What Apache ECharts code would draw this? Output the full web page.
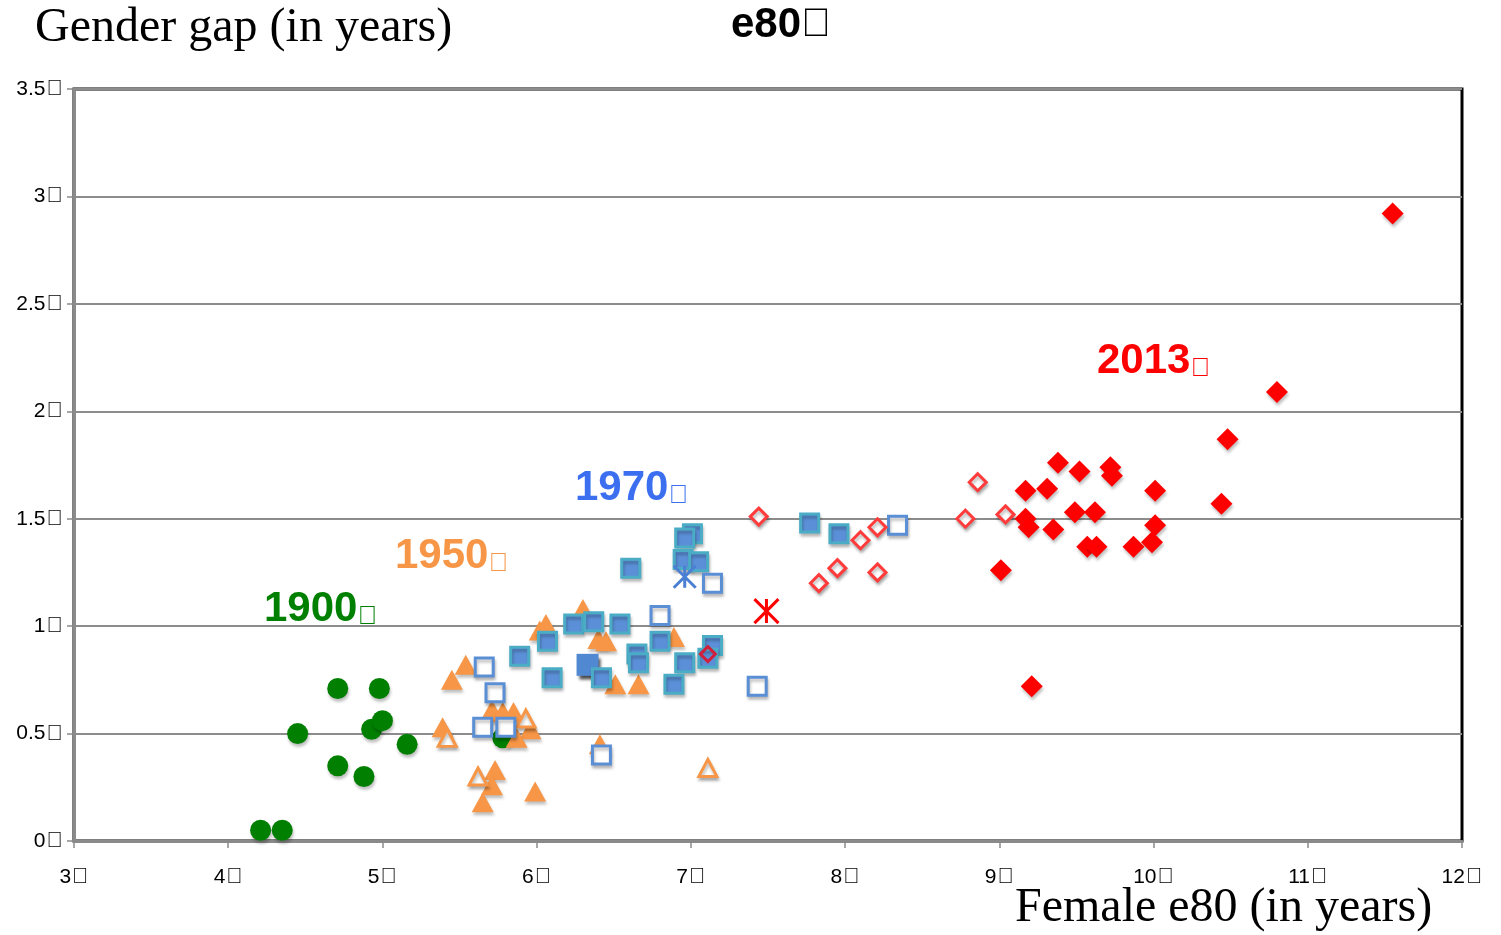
<!DOCTYPE html>
<html>
<head>
<meta charset="utf-8">
<script src="https://cdn.jsdelivr.net/npm/echarts@6/dist/echarts.min.js"></script>
<style>
html,body{margin:0;padding:0;background:#fff;}
#chart{width:1501px;height:935px;}
</style>
</head>
<body>
<div id="chart"></div>
<script>
// ---- data (x = female e80, y = gender gap) ----
const TOFU = '\uE000';
const xTicks = [3,4,5,6,7,8,9,10,11,12];
const yTicks = [0,0.5,1,1.5,2,2.5,3,3.5];

const green1900 = [[4.21,0.05],[4.35,0.05],[4.45,0.50],[4.71,0.71],[4.98,0.71],[4.93,0.52],[5.00,0.56],[5.16,0.45],[4.71,0.35],[4.88,0.30],[5.78,0.48]];

const orange1950 = [[5.54,0.82],[5.45,0.75],[5.39,0.53],[5.71,0.61],[5.78,0.60],[5.85,0.60],[5.96,0.52],[5.87,0.48],[6.41,0.45],[5.73,0.33],[5.71,0.26],[5.65,0.18],[5.99,0.23],[6.02,0.98],[6.06,1.01],[6.30,1.08],[6.40,0.94],[6.45,0.93],[6.51,0.73],[6.66,0.73],[6.89,0.95]];
const orange1950Open = [[5.42,0.48],[5.62,0.30],[5.93,0.57],[7.11,0.34]];

const blue1970 = [[7.01,1.43],[6.96,1.41],[6.61,1.27],[6.95,1.31],[7.05,1.30],[6.24,1.01],[6.37,1.02],[6.54,1.01],[6.07,0.93],[5.89,0.86],[6.10,0.76],[6.42,0.76],[6.65,0.87],[6.66,0.83],[6.80,0.93],[6.96,0.83],[7.14,0.91],[7.11,0.85],[6.89,0.73],[7.77,1.48],[7.96,1.43]];
const blue1970Dark = [[6.33,0.82]];
const blue1970Open = [[5.66,0.81],[5.73,0.69],[5.65,0.53],[5.80,0.53],[6.42,0.40],[7.14,1.20],[6.80,1.05],[7.43,0.72],[8.34,1.47]];
const blueStar = [[6.96,1.23]];

const red2013 = [[9.38,1.76],[9.52,1.72],[9.72,1.74],[9.73,1.70],[9.17,1.63],[9.31,1.64],[10.01,1.63],[9.49,1.53],[9.62,1.53],[9.17,1.50],[9.19,1.46],[9.35,1.45],[10.01,1.47],[9.99,1.39],[9.57,1.37],[9.63,1.37],[9.87,1.37],[9.01,1.26],[9.21,0.72],[11.55,2.92],[10.80,2.09],[10.48,1.87],[10.44,1.57]];
const red2013Open = [[7.44,1.51],[7.83,1.20],[7.95,1.27],[8.10,1.40],[8.21,1.46],[8.21,1.25],[8.86,1.67],[8.78,1.50],[9.04,1.52]];
const crimsonDiamond = [[7.11,0.87]];
const redStar = [[7.49,1.07]];

const yearLabels = ['1900','1950','1970','2013'];

// ---- chart ----
const shadow = {shadowBlur:3, shadowOffsetX:1, shadowOffsetY:3, shadowColor:'rgba(0,0,0,0.25)'};
const starPath = 'path://M0,0L10,10M10,0L0,10M5,0L5,10';
const axisRich = {
  a:{fontFamily:'"Liberation Sans Narrow","Liberation Sans",sans-serif', fontSize:21, color:'#000'},
  b:{fontFamily:'"Liberation Sans",sans-serif', fontSize:22, color:'#000', padding:[0,0,0,1]}
};

function tofuLabel(txt, color, x, y) {
  return {
    type:'text', left:x, top:y,
    style:{
      text:'{a|'+txt+'}{b|'+TOFU+'}',
      fill:color,
      rich:{
        a:{fontFamily:'"Liberation Sans",Arial,sans-serif', fontWeight:'bold', fontSize:42, fill:color},
        b:{fontFamily:'"Liberation Sans",Arial,sans-serif', fontSize:26, fill:color, verticalAlign:'bottom'}
      }
    }
  };
}

const chart = echarts.init(document.getElementById('chart'), null, {renderer:'canvas'});
chart.setOption({
  animation:false,
  backgroundColor:'#fff',
  grid:{left:74, right:39, top:89, bottom:94, show:true, borderColor:'#000', borderWidth:3, containLabel:false},
  xAxis:{
    type:'value', min:xTicks[0], max:xTicks[xTicks.length-1], interval:1,
    axisLine:{show:true, onZero:false, lineStyle:{color:'#8a8a8a', width:3}},
    axisTick:{show:true, length:7, lineStyle:{color:'#8a8a8a', width:1.5}},
    splitLine:{show:false},
    axisLabel:{margin:25, formatter:v=>'{a|'+v+'}{b|'+TOFU+'}', rich:axisRich}
  },
  yAxis:{
    type:'value', min:yTicks[0], max:yTicks[yTicks.length-1], interval:0.5,
    axisLine:{show:true, onZero:false, lineStyle:{color:'#8a8a8a', width:3}},
    axisTick:{show:true, length:7, lineStyle:{color:'#8a8a8a', width:1.5}},
    splitLine:{show:true, lineStyle:{color:'#8c8c8c', width:2}},
    axisLabel:{margin:11, formatter:v=>'{a|'+v+'}{b|'+TOFU+'}', rich:axisRich}
  },
  graphic:[
    {type:'text', left:35, top:4, style:{text:'Gender gap (in years)', font:'48px "Liberation Serif","Times New Roman",serif', fill:'#000'}},
    {type:'text', left:731, top:4, style:{text:'{a|e80}{b|'+TOFU+'}', fill:'#000', rich:{a:{fontFamily:'"Liberation Sans",Arial,sans-serif', fontWeight:'bold', fontSize:42, fill:'#000'}, b:{fontFamily:'"Liberation Sans",Arial,sans-serif', fontSize:40, fill:'#000'}}}},
    {type:'text', left:1015, top:884, style:{text:'Female e80 (in years)', font:'48px "Liberation Serif","Times New Roman",serif', fill:'#000'}},
    tofuLabel(yearLabels[0], '#008000', 264, 588),
    tofuLabel(yearLabels[1], '#f79646', 395, 535),
    tofuLabel(yearLabels[2], '#3b6ff0', 575, 467),
    tofuLabel(yearLabels[3], '#ff0000', 1097, 340)
  ],
  series:[
    {type:'scatter', name:'1900', data:green1900, symbol:'circle', symbolSize:21, itemStyle:Object.assign({color:'#007f00', opacity:1}, shadow), z:2},
    {type:'scatter', name:'1950', data:orange1950, symbol:'triangle', symbolSize:[22,20], itemStyle:Object.assign({color:'#f79646', opacity:1}, shadow), z:3},
    {type:'scatter', name:'1950 open', data:orange1950Open, symbol:'triangle', symbolSize:[18,17], itemStyle:Object.assign({color:'#fff', borderColor:'#f79646', borderWidth:3, opacity:1}, shadow), z:3},
    {type:'scatter', name:'1970 dark', data:blue1970Dark, symbol:'rect', symbolSize:22, itemStyle:{color:'#5188d2', opacity:1, shadowBlur:3, shadowOffsetX:2, shadowOffsetY:4, shadowColor:'rgba(0,0,0,0.7)'}, z:4},
    {type:'scatter', name:'1970', data:blue1970, symbol:'rect', symbolSize:18, itemStyle:Object.assign({color:'#5b90d8', borderColor:'#4bacc6', borderWidth:3, opacity:1}, shadow), z:4},
    {type:'scatter', name:'1970 open', data:blue1970Open, symbol:'rect', symbolSize:18, itemStyle:Object.assign({color:'#fff', borderColor:'#5a8fd6', borderWidth:3, opacity:1}, shadow), z:5},
    {type:'scatter', name:'1970 star', data:blueStar, symbol:starPath, symbolSize:22, itemStyle:{color:'none', borderColor:'#4a7fd4', borderWidth:3, opacity:1}, z:5},
    {type:'scatter', name:'2013 open', data:red2013Open, symbol:'diamond', symbolSize:17, itemStyle:Object.assign({color:'#fff', borderColor:'#ff3b3b', borderWidth:3, opacity:1}, shadow), z:6},
    {type:'scatter', name:'2013', data:red2013, symbol:'diamond', symbolSize:22, itemStyle:Object.assign({color:'#ff0000', opacity:1}, shadow), z:6},
    {type:'scatter', name:'crimson', data:crimsonDiamond, symbol:'diamond', symbolSize:15, itemStyle:{color:'rgba(255,255,255,0)', borderColor:'#d0203c', borderWidth:3, opacity:1}, z:7},
    {type:'scatter', name:'red star', data:redStar, symbol:starPath, symbolSize:24, itemStyle:{color:'none', borderColor:'#ff0000', borderWidth:3, opacity:1}, z:7}
  ]
});
</script>
</body>
</html>
